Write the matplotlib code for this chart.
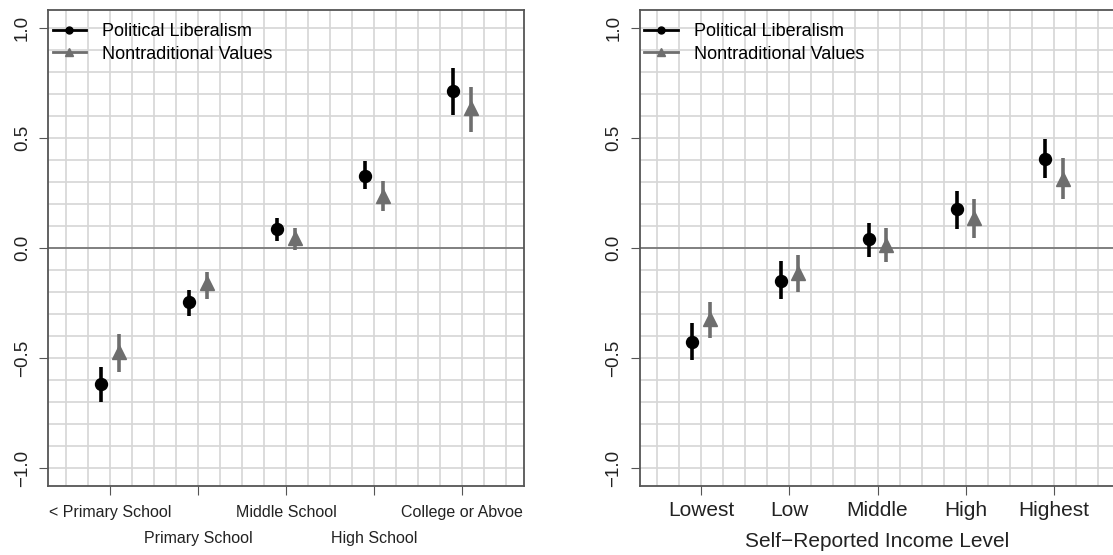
import numpy as np
import matplotlib
matplotlib.use("Agg")
import matplotlib.pyplot as plt
from matplotlib.lines import Line2D

plt.rcParams["font.family"] = ["Liberation Sans", "DejaVu Sans"]

# ── data ─────────────────────────────────────────────────────────────────────
edu_labels = ["< Primary School", "Primary School", "Middle School",
              "High School", "College or Abvoe"]
edu_lib = [-0.618, -0.245, 0.086, 0.328, 0.714]
edu_lib_lo = [-0.700, -0.307, 0.033, 0.266, 0.602]
edu_lib_hi = [-0.540, -0.190, 0.137, 0.395, 0.818]
edu_val = [-0.470, -0.160, 0.047, 0.236, 0.634]
edu_val_lo = [-0.561, -0.231, -0.008, 0.168, 0.525]
edu_val_hi = [-0.392, -0.107, 0.092, 0.304, 0.729]

inc_labels = ["Lowest", "Low", "Middle", "High", "Highest"]
inc_lib = [-0.425, -0.150, 0.041, 0.176, 0.405]
inc_lib_lo = [-0.508, -0.233, -0.039, 0.085, 0.316]
inc_lib_hi = [-0.342, -0.059, 0.115, 0.260, 0.495]
inc_val = [-0.324, -0.115, 0.014, 0.137, 0.313]
inc_val_lo = [-0.410, -0.198, -0.062, 0.044, 0.221]
inc_val_hi = [-0.244, -0.032, 0.092, 0.221, 0.407]

yticks = [-1.0, -0.5, 0.0, 0.5, 1.0]
ytick_labels = ["\u22121.0", "\u22120.5", "0.0", "0.5", "1.0"]

BLACK = "#000000"
GRAY = "#6e6e6e"
GRID = "#d6d6d6"
SPINE = "#555555"
TEXT = "#222222"


def draw_panel(ax, lib, lib_lo, lib_hi, val, val_lo, val_hi):
    x = np.arange(1, len(lib) + 1)
    ax.set_xlim(0.3, 5.7)
    ax.set_ylim(-1.08, 1.08)
    ax.set_xticks(np.arange(0.5, 5.51, 0.25), minor=True)
    ax.set_yticks(np.arange(-1.0, 1.01, 0.1), minor=True)
    ax.grid(which="both", color=GRID, linewidth=1.2)
    ax.set_axisbelow(True)
    ax.axhline(0, color="#808080", linewidth=1.4, zorder=1)

    ax.vlines(x - 0.1, lib_lo, lib_hi, color=BLACK, linewidth=2.6, zorder=3)
    ax.plot(x - 0.1, lib, "o", color=BLACK, markersize=8.6, zorder=4)
    ax.vlines(x + 0.1, val_lo, val_hi, color=GRAY, linewidth=2.6, zorder=3)
    ax.plot(x + 0.1, val, "^", color=GRAY, markersize=10.5, zorder=4)

    ax.set_yticks(yticks)
    ax.set_yticklabels(ytick_labels, rotation=90, va="center", fontsize=13.5,
                       color=TEXT)
    ax.tick_params(axis="y", which="major", length=6.3, color=SPINE, pad=6)
    ax.tick_params(axis="x", which="major", length=6.5, color=SPINE)
    ax.tick_params(which="minor", length=0)
    for sp in ax.spines.values():
        sp.set_edgecolor(SPINE)
        sp.set_linewidth(1.3)

    handles = [
        Line2D([], [], color=BLACK, marker="o", markersize=5, linewidth=2),
        Line2D([], [], color=GRAY, marker="^", markersize=6, linewidth=2),
    ]
    ax.legend(handles, ["Political Liberalism", "Nontraditional Values"],
              loc="upper left", bbox_to_anchor=(0.01, 0.972), frameon=False,
              fontsize=13, handlelength=1.85, handletextpad=0.9,
              borderpad=0, borderaxespad=0, labelspacing=0.3)


fig = plt.figure(figsize=(11.13, 5.55), dpi=100)
ax1 = fig.add_axes([48 / 1113, 69 / 555, 476 / 1113, 476 / 555])
ax2 = fig.add_axes([639.5 / 1113, 69 / 555, 476 / 1113, 476 / 555])

draw_panel(ax1, edu_lib, edu_lib_lo, edu_lib_hi, edu_val, edu_val_lo, edu_val_hi)
draw_panel(ax2, inc_lib, inc_lib_lo, inc_lib_hi, inc_val, inc_val_lo, inc_val_hi)

# education: staggered labels
ax1.set_xticks(range(1, 6))
ax1.set_xticklabels(edu_labels, fontsize=11.5, color=TEXT)
for i, tick in enumerate(ax1.xaxis.get_major_ticks()):
    tick.set_pad(7 if i % 2 == 0 else 26)

# income
ax2.set_xticks(range(1, 6))
ax2.set_xticklabels(inc_labels, fontsize=15, color=TEXT)
ax2.tick_params(axis="x", pad=4)
ax2.set_xlabel("Self\u2212Reported Income Level", fontsize=15, color=TEXT,
               labelpad=9)

fig.savefig("out.png", dpi=100, facecolor="white")
